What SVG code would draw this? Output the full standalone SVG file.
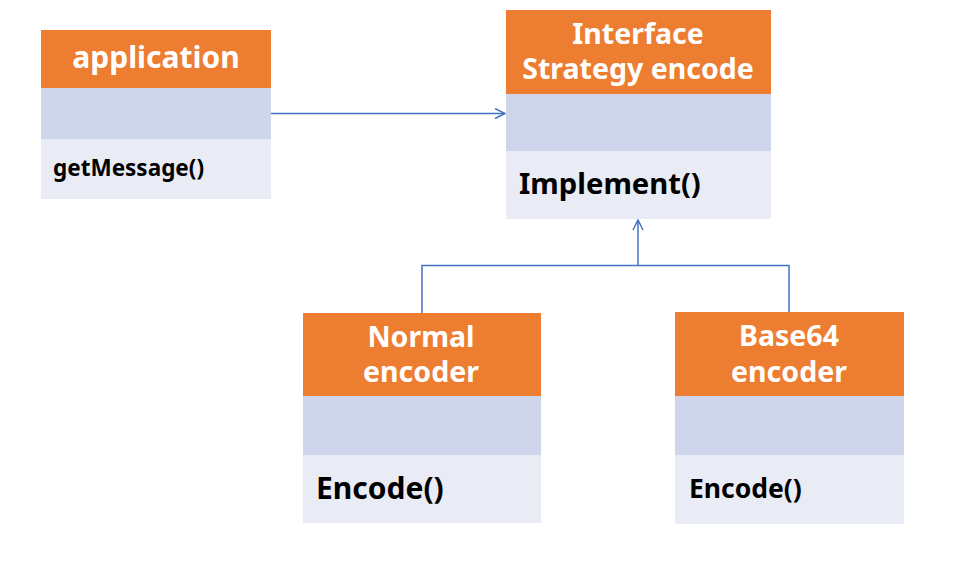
<svg xmlns="http://www.w3.org/2000/svg" width="977" height="567" viewBox="0 0 977 567">
<defs>
<style>
.hd{fill:#ED7D31}
.at{fill:#CFD5EA}
.op{fill:#E9EBF5}
.t{font-family:"Noto Sans","Open Sans","DejaVu Sans",sans-serif;font-weight:bold}
.w{fill:#FFFFFF;font-size:28.5px;text-anchor:middle}
.k{fill:#000000}
.ln{fill:none;stroke:#4472C4;stroke-width:1.5}
</style>
<marker id="arr" viewBox="0 0 12 12" refX="11" refY="6" markerWidth="12" markerHeight="12" markerUnits="userSpaceOnUse" orient="auto">
<path d="M1,1 L11,6 L1,11" fill="none" stroke="#4472C4" stroke-width="1.5"/>
</marker>
</defs>
<rect width="977" height="567" fill="#FFFFFF"/>
<g id="connectors">
<line class="ln" x1="271" y1="113.5" x2="505" y2="113.5" marker-end="url(#arr)"/>
<polyline class="ln" points="422,313 422,265.5 789,265.5 789,312"/>
<line class="ln" x1="638" y1="265.5" x2="638" y2="220" marker-end="url(#arr)"/>
</g>
<g id="application">
<rect class="hd" x="41" y="30" width="230" height="58"/>
<rect class="at" x="41" y="88" width="230" height="51"/>
<rect class="op" x="41" y="139" width="230" height="60"/>
<text class="t w" x="156" y="68" font-size="30" style="font-size:30px">application</text>
<text class="t k" x="53" y="176" font-size="22.5">getMessage()</text>
</g>
<g id="strategy">
<rect class="hd" x="506" y="10" width="265" height="84"/>
<rect class="at" x="506" y="94" width="265" height="57"/>
<rect class="op" x="506" y="151" width="265" height="68"/>
<text class="t w" x="638" y="44">Interface</text>
<text class="t w" x="638" y="79">Strategy encode</text>
<text class="t k" x="519" y="194" font-size="29.2">Implement()</text>
</g>
<g id="normal">
<rect class="hd" x="303" y="313" width="238" height="83"/>
<rect class="at" x="303" y="396" width="238" height="59"/>
<rect class="op" x="303" y="455" width="238" height="68"/>
<text class="t w" x="421" y="347">Normal</text>
<text class="t w" x="421" y="382">encoder</text>
<text class="t k" x="316" y="499" font-size="30">Encode()</text>
</g>
<g id="base64">
<rect class="hd" x="675" y="312" width="229" height="84"/>
<rect class="at" x="675" y="396" width="229" height="59"/>
<rect class="op" x="675" y="455" width="229" height="69"/>
<text class="t w" x="789" y="346">Base64</text>
<text class="t w" x="789" y="382">encoder</text>
<text class="t k" x="689" y="498" font-size="26.5">Encode()</text>
</g>
</svg>
